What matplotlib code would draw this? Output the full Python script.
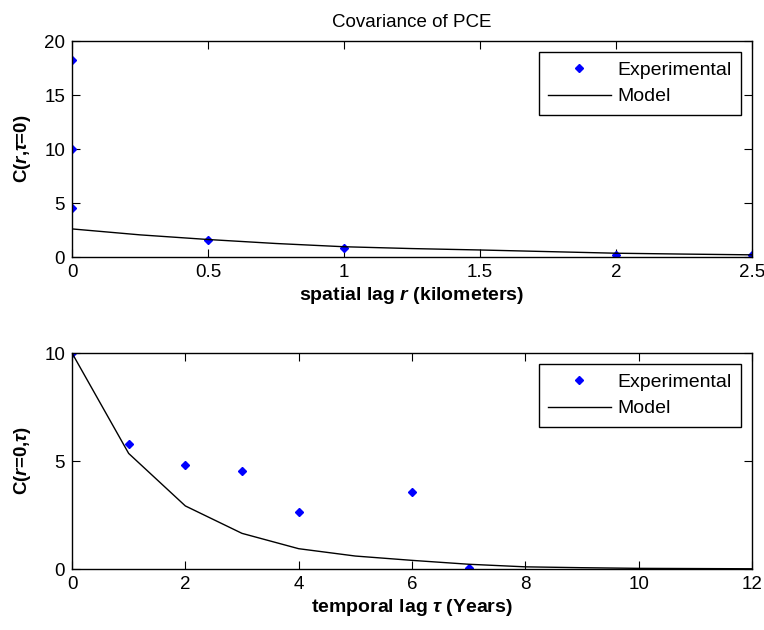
import numpy as np
import matplotlib.pyplot as plt

plt.rcParams['font.family'] = ['Liberation Sans', 'DejaVu Sans']
plt.rcParams['mathtext.fontset'] = 'custom'
plt.rcParams['mathtext.rm'] = 'Liberation Sans'
plt.rcParams['mathtext.it'] = 'Liberation Sans:italic:bold'
plt.rcParams['mathtext.bf'] = 'Liberation Sans:bold'

# spatial covariance (top)
r_exp = [0, 0, 0, 0.5, 1, 2, 2.5]
c_r_exp = [18.2, 10.0, 4.5, 1.6, 0.8, 0.2, 0.2]
r_model = [0, 0.25, 0.5, 0.75, 1.0, 1.25, 1.5, 1.75, 2.0, 2.25, 2.5]
c_r_model = [2.6, 2.05, 1.62, 1.25, 0.95, 0.78, 0.65, 0.5, 0.35, 0.27, 0.2]

# temporal covariance (bottom)
t_exp = [0, 1, 2, 3, 4, 6, 7]
c_t_exp = [10.0, 5.8, 4.8, 4.55, 2.65, 3.55, 0.05]
t_model = [0, 1, 2, 3, 4, 5, 6, 7, 8, 9, 10, 11, 12]
c_t_model = [10.0, 5.35, 2.92, 1.65, 0.94, 0.6, 0.4, 0.22, 0.1, 0.06, 0.03, 0.02, 0.01]

fig = plt.figure(figsize=(7.64, 6.3), dpi=100)
ax1 = fig.add_axes([72 / 764, 1 - 257 / 630, 680 / 764, 216 / 630])
ax2 = fig.add_axes([72 / 764, 1 - 569 / 630, 680 / 764, 216 / 630])


def style(ax):
    ax.tick_params(direction='in', top=True, right=True, length=6, labelsize=13.5, pad=5)
    for s in ax.spines.values():
        s.set_linewidth(1.0)


ax1.plot(r_exp, c_r_exp, linestyle='none', marker='D', markersize=4, color='#0000ff', label='Experimental')
ax1.plot(r_model, c_r_model, color='black', linewidth=1.0, label='Model')
ax1.set_xlim(0, 2.5)
ax1.set_ylim(0, 20)
ax1.set_xticks(np.arange(0, 2.51, 0.5))
ax1.set_xticklabels(['0', '0.5', '1', '1.5', '2', '2.5'])
ax1.set_yticks([0, 5, 10, 15, 20])
ax1.set_title('Covariance of PCE', fontsize=13.5, pad=10)
ax1.set_xlabel(r'spatial lag $r$ (kilometers)', fontsize=14, fontweight='bold', labelpad=3)
ax1.set_ylabel(r'C($r$,$\tau$=0)', fontsize=13.5, fontweight='bold', labelpad=8)
style(ax1)

ax2.plot(t_exp, c_t_exp, linestyle='none', marker='D', markersize=4, color='#0000ff', label='Experimental')
ax2.plot(t_model, c_t_model, color='black', linewidth=1.0, label='Model')
ax2.set_xlim(0, 12)
ax2.set_ylim(0, 10)
ax2.set_xticks(np.arange(0, 13, 2))
ax2.set_yticks([0, 5, 10])
ax2.set_xlabel(r'temporal lag $\tau$ (Years)', fontsize=14, fontweight='bold', labelpad=3)
ax2.set_ylabel(r'C($r$=0,$\tau$)', fontsize=13.5, fontweight='bold', labelpad=8)
style(ax2)

for ax in (ax1, ax2):
    leg = ax.legend(loc='upper right', fontsize=14, fancybox=False, framealpha=1,
                    edgecolor='black', borderaxespad=0.55, handlelength=3.2,
                    handletextpad=0.35, borderpad=0.5, labelspacing=0.45)
    leg.get_frame().set_linewidth(1.0)

fig.savefig('out.png', dpi=100)
